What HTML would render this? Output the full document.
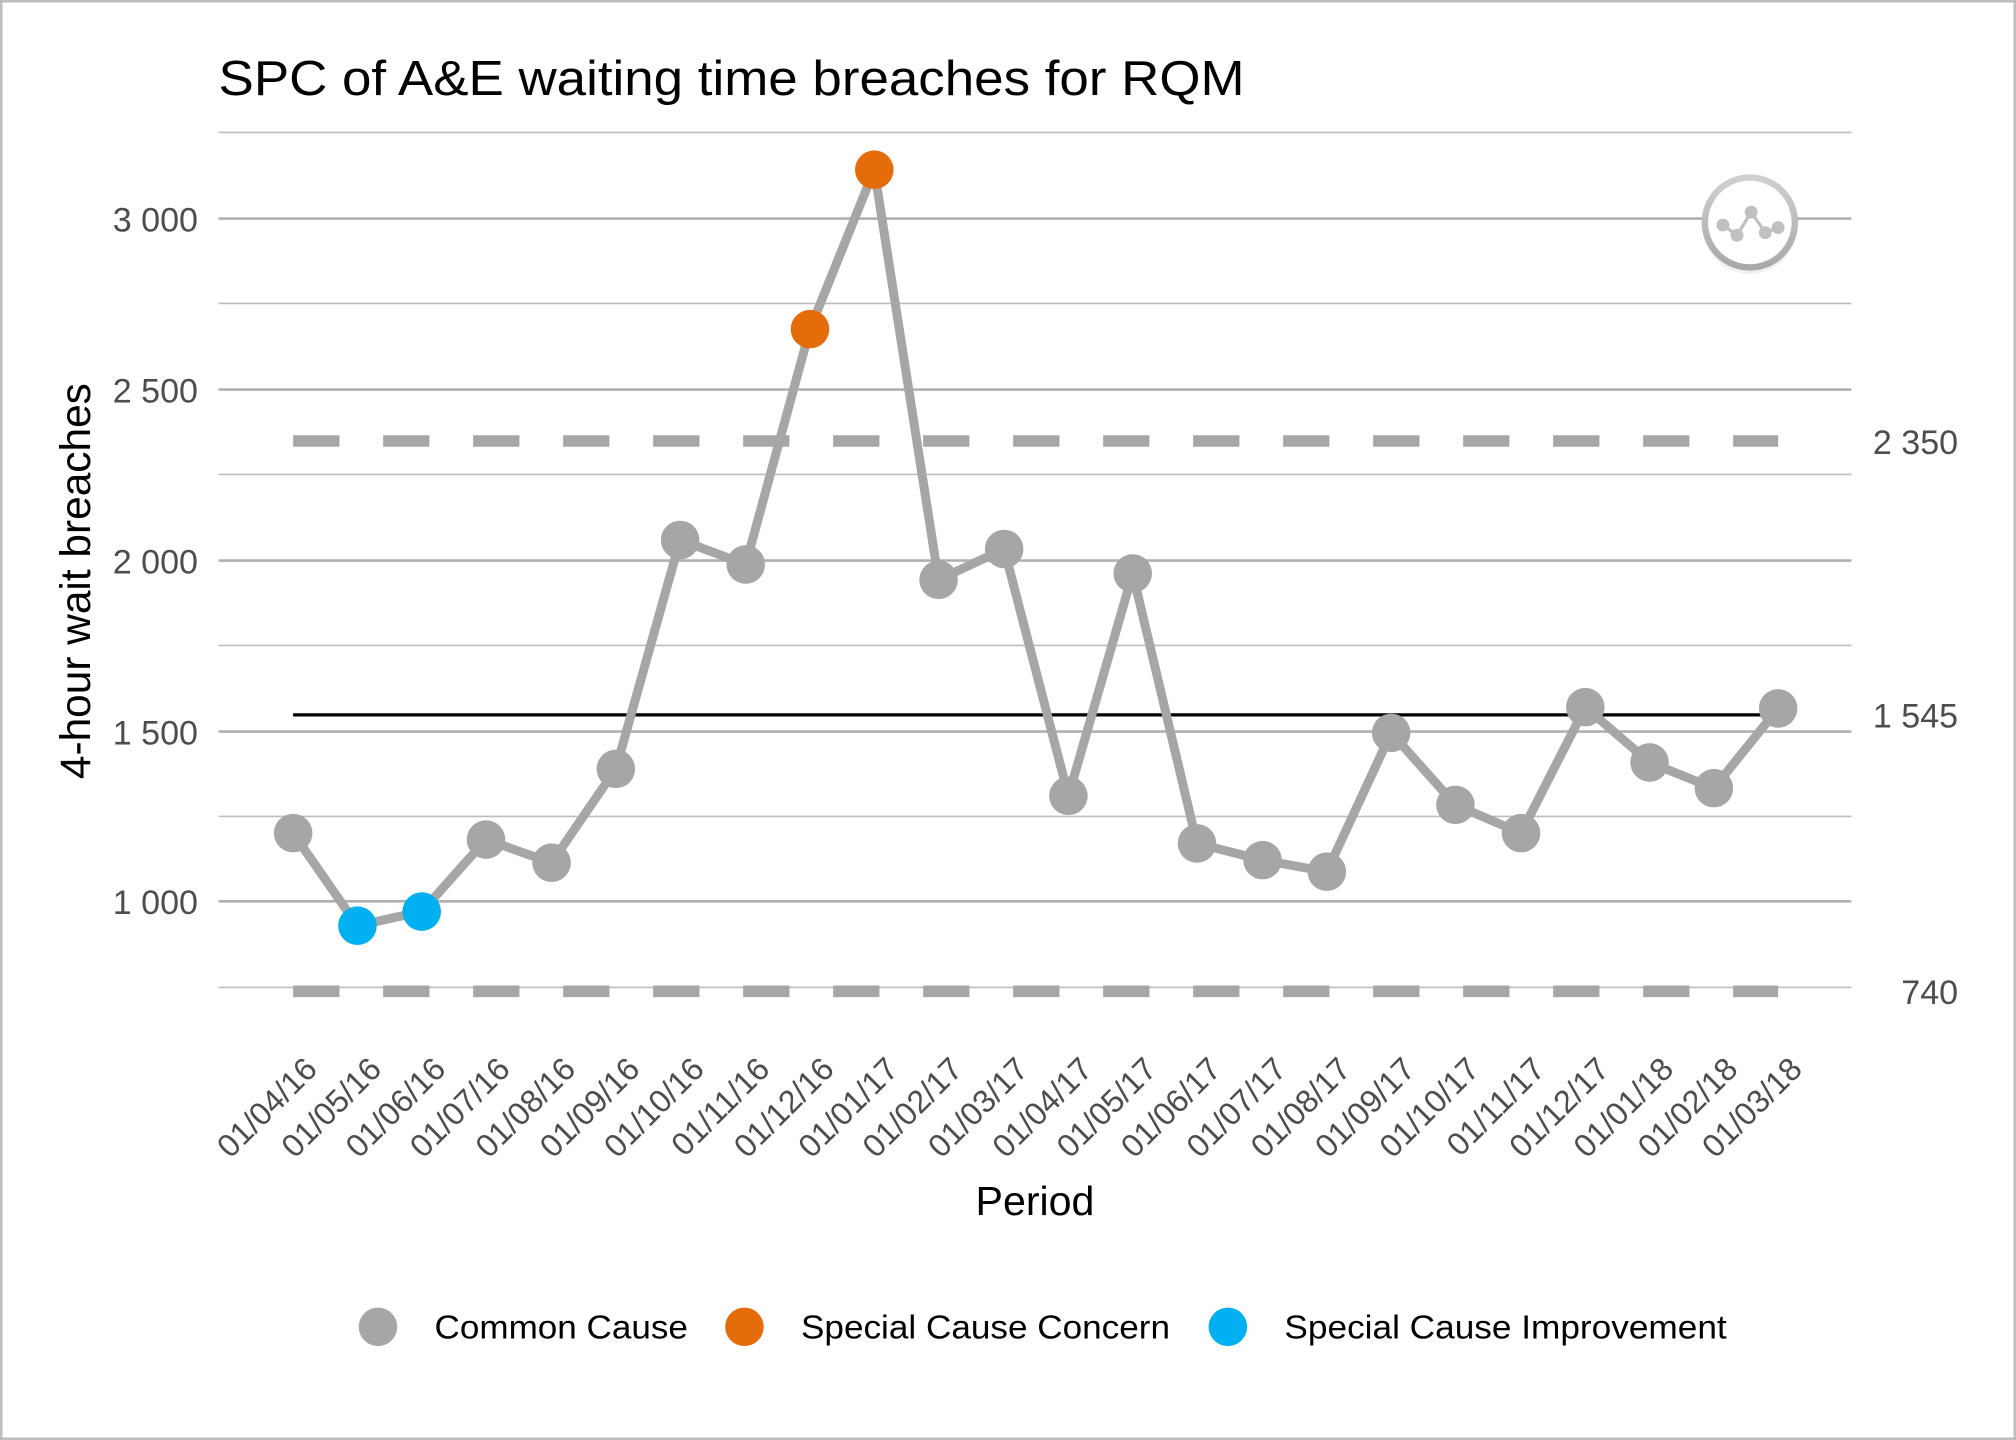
<!DOCTYPE html>
<html><head><meta charset="utf-8"><style>
html,body{margin:0;padding:0;background:#fff}
svg{display:block}
text{font-family:"Liberation Sans",Arial,sans-serif}
</style></head><body>
<svg width="2016" height="1440" viewBox="0 0 1568 1120" xmlns="http://www.w3.org/2000/svg">
<defs>
<linearGradient id="ring" x1="0" y1="0" x2="0" y2="1"><stop offset="0" stop-color="#d0d0d0"/><stop offset="1" stop-color="#a8a8a8"/></linearGradient>
</defs>
<rect x="1" y="1" width="1566" height="1118" fill="#fff" stroke="#bdbdbd" stroke-width="2"/>
<text x="170" y="74" font-size="38" fill="#000" textLength="798" lengthAdjust="spacingAndGlyphs">SPC of A&amp;E waiting time breaches for RQM</text>
<g stroke="#bebebe" stroke-width="1.3">
<line x1="170" x2="1440" y1="103" y2="103"/><line x1="170" x2="1440" y1="236" y2="236"/><line x1="170" x2="1440" y1="369" y2="369"/><line x1="170" x2="1440" y1="502" y2="502"/><line x1="170" x2="1440" y1="635" y2="635"/><line x1="170" x2="1440" y1="768" y2="768"/>
</g>
<g stroke="#b0b0b0" stroke-width="2">
<line x1="170" x2="1440" y1="170" y2="170"/><line x1="170" x2="1440" y1="303" y2="303"/><line x1="170" x2="1440" y1="436" y2="436"/><line x1="170" x2="1440" y1="569" y2="569"/><line x1="170" x2="1440" y1="701" y2="701"/>
</g>
<g font-size="26.5" fill="#4d4d4d" text-anchor="end">
<text x="154" y="180">3 000</text><text x="154" y="313">2 500</text><text x="154" y="446">2 000</text><text x="154" y="579">1 500</text><text x="154" y="711">1 000</text>
</g>
<text transform="translate(70,452) rotate(-90)" font-size="33" text-anchor="middle" fill="#000">4-hour wait breaches</text>
<g stroke="#a6a6a6" stroke-width="9" stroke-dasharray="36,34">
<line x1="228" x2="1383" y1="343" y2="343"/><line x1="228" x2="1383" y1="771" y2="771"/>
</g>
<line x1="228" x2="1383" y1="556" y2="556" stroke="#000" stroke-width="2.5"/>
<g font-size="26.5" fill="#4d4d4d" text-anchor="end">
<text x="1523" y="353">2 350</text><text x="1523" y="566">1 545</text><text x="1523" y="781">740</text>
</g>
<polyline fill="none" stroke="#a6a6a6" stroke-width="7" stroke-linejoin="round" points="228,648 278,720 328,709 378,653 429,671 479,598 529,420 580,439 630,256 680,132 730,451 781,427 831,619 881,446 931,656 982,669 1032,678 1082,570 1132,626 1183,648 1233,550 1283,593 1333,613 1383,551"/>
<g fill="#a6a6a6">
<circle cx="228" cy="648" r="15"/><circle cx="378" cy="653" r="15"/><circle cx="429" cy="671" r="15"/><circle cx="479" cy="598" r="15"/><circle cx="529" cy="420" r="15"/><circle cx="580" cy="439" r="15"/><circle cx="730" cy="451" r="15"/><circle cx="781" cy="427" r="15"/><circle cx="831" cy="619" r="15"/><circle cx="881" cy="446" r="15"/><circle cx="931" cy="656" r="15"/><circle cx="982" cy="669" r="15"/><circle cx="1032" cy="678" r="15"/><circle cx="1082" cy="570" r="15"/><circle cx="1132" cy="626" r="15"/><circle cx="1183" cy="648" r="15"/><circle cx="1233" cy="550" r="15"/><circle cx="1283" cy="593" r="15"/><circle cx="1333" cy="613" r="15"/><circle cx="1383" cy="551" r="15"/>
</g>
<g fill="#00b0f0"><circle cx="278" cy="720" r="15"/><circle cx="328" cy="709" r="15"/></g>
<g fill="#e46c0a"><circle cx="630" cy="256" r="15"/><circle cx="680" cy="132" r="15"/></g>
<circle cx="1361" cy="176" r="37" fill="#e6e6e6" opacity="0.6"/>
<circle cx="1361" cy="173" r="35" fill="#fff" stroke="url(#ring)" stroke-width="5"/>
<polyline points="1340,175 1351,183 1362,165 1373,181 1383,177" fill="none" stroke="#c0c0c0" stroke-width="2.5"/>
<g fill="#c0c0c0"><circle cx="1340" cy="175" r="5"/><circle cx="1351" cy="183" r="5"/><circle cx="1362" cy="165" r="5"/><circle cx="1373" cy="181" r="5"/><circle cx="1383" cy="177" r="5"/></g>
<g font-size="25" fill="#4d4d4d" text-anchor="end">
<text transform="translate(248,833) rotate(-45)">01/04/16</text>
<text transform="translate(298,833) rotate(-45)">01/05/16</text>
<text transform="translate(348,833) rotate(-45)">01/06/16</text>
<text transform="translate(398,833) rotate(-45)">01/07/16</text>
<text transform="translate(449,833) rotate(-45)">01/08/16</text>
<text transform="translate(499,833) rotate(-45)">01/09/16</text>
<text transform="translate(549,833) rotate(-45)">01/10/16</text>
<text transform="translate(600,833) rotate(-45)">01/11/16</text>
<text transform="translate(650,833) rotate(-45)">01/12/16</text>
<text transform="translate(700,833) rotate(-45)">01/01/17</text>
<text transform="translate(750,833) rotate(-45)">01/02/17</text>
<text transform="translate(801,833) rotate(-45)">01/03/17</text>
<text transform="translate(851,833) rotate(-45)">01/04/17</text>
<text transform="translate(901,833) rotate(-45)">01/05/17</text>
<text transform="translate(951,833) rotate(-45)">01/06/17</text>
<text transform="translate(1002,833) rotate(-45)">01/07/17</text>
<text transform="translate(1052,833) rotate(-45)">01/08/17</text>
<text transform="translate(1102,833) rotate(-45)">01/09/17</text>
<text transform="translate(1152,833) rotate(-45)">01/10/17</text>
<text transform="translate(1203,833) rotate(-45)">01/11/17</text>
<text transform="translate(1253,833) rotate(-45)">01/12/17</text>
<text transform="translate(1303,833) rotate(-45)">01/01/18</text>
<text transform="translate(1353,833) rotate(-45)">01/02/18</text>
<text transform="translate(1403,833) rotate(-45)">01/03/18</text>
</g>
<text x="805" y="945" font-size="32" text-anchor="middle" fill="#000">Period</text>
<circle cx="294" cy="1032" r="15" fill="#a6a6a6"/>
<text x="338" y="1041" font-size="26" fill="#000" textLength="197" lengthAdjust="spacingAndGlyphs">Common Cause</text>
<circle cx="579" cy="1032" r="15" fill="#e46c0a"/>
<text x="623" y="1041" font-size="26" fill="#000" textLength="287" lengthAdjust="spacingAndGlyphs">Special Cause Concern</text>
<circle cx="955" cy="1032" r="15" fill="#00b0f0"/>
<text x="999" y="1041" font-size="26" fill="#000" textLength="344" lengthAdjust="spacingAndGlyphs">Special Cause Improvement</text>
</svg>
</body></html>
